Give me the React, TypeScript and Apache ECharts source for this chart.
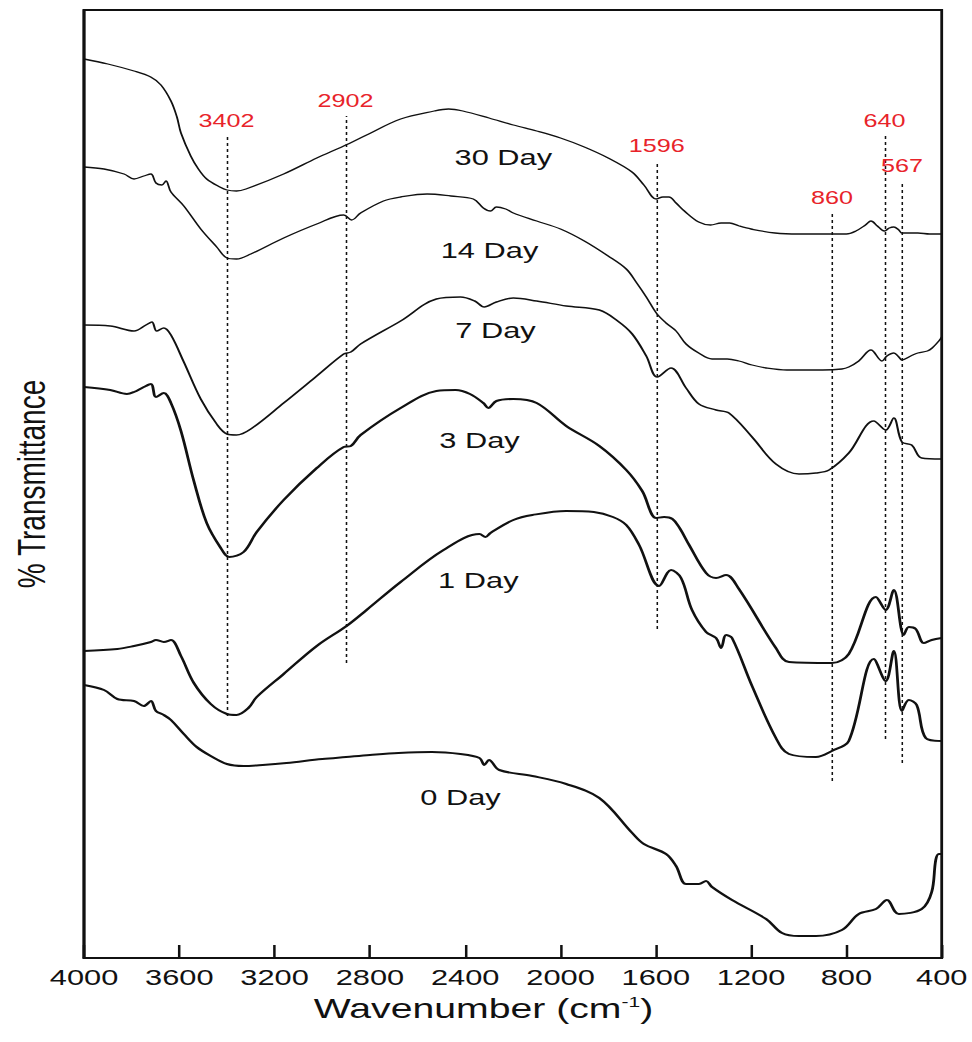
import React, { useEffect, useRef } from "react";
import * as echarts from "echarts";

// The reference figure is horizontally stretched; reproduce that with a CSS scaleX.
const STRETCH = 1.4;
const FONT = '"Liberation Sans", Arial, Helvetica, sans-serif';

// x tick labels (wavenumber, cm-1)
const xTicks = [4000, 3600, 3200, 2800, 2400, 2000, 1600, 1200, 800, 400];

// FTIR spectra: [wavenumber, transmittance (arbitrary offset units)]
const day30: [number, number][] = [
  [4000, 899], [3900, 894], [3790, 887], [3720, 881], [3677, 873], [3635, 857], [3610, 841], [3593, 825],
  [3552, 802], [3520, 789], [3485, 779], [3430, 771], [3400, 768], [3360, 767], [3320, 769], [3162, 784],
  [3023, 800], [2910, 812], [2814, 823], [2671, 839], [2530, 847], [2470, 849], [2410, 847], [2300, 840],
  [2198, 833], [2100, 827], [2000, 820], [1900, 811], [1800, 800], [1700, 786], [1650, 773], [1598, 759],
  [1570, 761], [1545, 761], [1515, 755], [1480, 747], [1420, 736], [1370, 733], [1326, 735], [1290, 735],
  [1250, 732], [1200, 729], [1100, 725], [1000, 724], [900, 724], [800, 724], [760, 727], [720, 733],
  [697, 737], [670, 732], [651, 728], [640, 727], [620, 730], [601, 731], [580, 728], [567, 725],
  [540, 725], [500, 725], [450, 724], [400, 724],
];

const day14: [number, number][] = [
  [4000, 791], [3916, 789], [3832, 784], [3790, 779], [3749, 782], [3719, 784], [3698, 775], [3673, 773],
  [3656, 777], [3635, 766], [3581, 752], [3510, 729], [3443, 711], [3400, 700], [3360, 699], [3300, 704], [3162, 720],
  [3023, 734], [2910, 743], [2877, 738], [2839, 745], [2743, 757], [2671, 761], [2560, 764], [2460, 762],
  [2366, 759], [2324, 750], [2294, 747], [2269, 751], [2230, 749], [2198, 745], [2100, 737], [2000, 729],
  [1900, 717], [1800, 702], [1724, 689], [1680, 675], [1640, 661], [1598, 645], [1557, 635], [1515, 627],
  [1473, 614], [1420, 605], [1364, 599], [1300, 599], [1251, 597], [1196, 593], [1137, 590], [1050, 588],
  [1000, 588], [900, 588], [819, 589], [790, 591], [748, 597], [697, 608], [651, 597], [630, 602],
  [601, 605], [580, 601], [567, 598], [530, 602], [500, 605], [460, 607], [440, 610], [412, 617], [400, 621],
];

const day7: [number, number][] = [
  [4000, 633], [3890, 632], [3790, 627], [3740, 633], [3715, 636], [3695, 627], [3665, 630], [3635, 623],
  [3581, 596], [3510, 559], [3443, 534], [3400, 524], [3360, 523], [3300, 529], [3162, 555], [3023, 582], [2910, 604],
  [2880, 606], [2839, 614], [2671, 637], [2521, 659], [2420, 661], [2360, 657], [2320, 651], [2269, 656], [2198, 660],
  [2100, 657], [1976, 652], [1837, 648], [1760, 637], [1699, 624], [1640, 602], [1594, 581], [1536, 590],
  [1473, 570], [1419, 554], [1347, 548], [1293, 545], [1196, 521], [1096, 494], [999, 484], [928, 485],
  [873, 488], [790, 505], [685, 537], [635, 528], [601, 540], [567, 516], [526, 513], [484, 500], [400, 499],
];

const day3: [number, number][] = [
  [4000, 571], [3890, 568], [3820, 564], [3790, 566], [3749, 571], [3719, 574], [3698, 561], [3665, 565],
  [3635, 555], [3593, 527], [3539, 477], [3485, 435], [3426, 410], [3390, 401], [3330, 406], [3275, 426],
  [3162, 458], [3023, 490], [2910, 511], [2880, 512], [2839, 523], [2671, 550], [2521, 567], [2440, 568], [2380, 564],
  [2324, 555], [2303, 550], [2269, 557], [2198, 559], [2100, 555], [1976, 532], [1837, 512], [1724, 488],
  [1657, 467], [1598, 440], [1565, 441], [1530, 439], [1500, 430], [1460, 413], [1389, 385], [1347, 380], [1305, 383], [1251, 369],
  [1096, 310], [1041, 296], [861, 295], [790, 304], [676, 361], [635, 348], [601, 368], [559, 323],
  [538, 331], [509, 329], [475, 315], [442, 318], [400, 320],
];

const day1: [number, number][] = [
  [4000, 307], [3860, 309], [3790, 312], [3719, 316], [3698, 318], [3665, 316], [3635, 318], [3593, 302],
  [3539, 275], [3468, 254], [3400, 244], [3360, 243], [3310, 250], [3275, 261], [3162, 284], [3023, 312], [2898, 332],
  [2814, 348], [2671, 376], [2491, 408], [2340, 424], [2315, 421], [2294, 425], [2198, 438], [2118, 443],
  [1976, 447], [1860, 446], [1780, 441], [1724, 433], [1670, 413], [1586, 372], [1536, 388], [1494, 380], [1448, 348],
  [1389, 326], [1347, 320], [1326, 310], [1305, 323], [1280, 320], [1196, 272], [1096, 220], [1041, 204],
  [928, 201], [861, 207], [790, 217], [685, 299], [635, 277], [601, 307], [567, 247], [538, 258],
  [505, 253], [467, 220], [400, 217],
];

const day0: [number, number][] = [
  [4000, 273], [3916, 268], [3860, 259], [3790, 257], [3749, 252], [3719, 257], [3698, 247], [3665, 243],
  [3635, 238], [3581, 224], [3527, 211], [3468, 202], [3400, 194], [3330, 192], [3250, 193], [3150, 195],
  [3000, 199], [2900, 201], [2800, 203], [2680, 205], [2540, 206], [2420, 204], [2340, 200], [2320, 193],
  [2300, 198], [2257, 188], [2118, 182], [1976, 174], [1837, 160], [1699, 125], [1650, 114], [1557, 104],
  [1515, 92], [1473, 74], [1419, 74], [1389, 77], [1364, 71], [1280, 58], [1137, 39], [1070, 25],
  [999, 22], [928, 22], [819, 28], [748, 44], [676, 49], [630, 58], [580, 44], [484, 49], [442, 66],
  [425, 98], [412, 104], [400, 104],
];

// Peak markers: wavenumber, label, dashed line from / to (transmittance units)
const peakWavenumbers = [3402, 2902, 1596, 860, 640, 567];
const peakLabels = ["3402", "2902", "1596", "860", "640", "567"];
const peakLineBottom = [242, 295, 329, 177, 219, 195];
const peakLineTop = [822, 842, 797, 745, 822, 777];

// Curve labels: text, anchor wavenumber, anchor transmittance
const curveNames = ["30 Day", "14 Day", "7 Day", "3 Day", "1 Day", "0 Day"];
const curveLabelWn = [2240, 2298, 2273, 2340, 2345, 2420];
const curveLabelT = [800, 707, 627, 517, 377, 160];

const curveData = [day30, day14, day7, day3, day1, day0];
const curveWidths = [1.3, 1.3, 1.5, 2, 2, 2];

function buildOption(): echarts.EChartsOption {
  const series: any[] = curveData.map((d, i) => ({
    type: "line",
    name: curveNames[i],
    data: d,
    showSymbol: false,
    symbol: "none",
    smooth: 0.35,
    silent: true,
    lineStyle: { color: "#111", width: curveWidths[i] },
    markPoint: {
      symbol: "circle",
      symbolSize: 0,
      silent: true,
      label: {
        show: true,
        position: "inside",
        color: "#111",
        fontSize: 22,
        fontFamily: FONT,
        formatter: "{b}",
      },
      data: [{ name: curveNames[i], coord: [curveLabelWn[i], curveLabelT[i]] }],
    },
  }));

  series.push({
    type: "line",
    name: "peaks",
    data: [],
    silent: true,
    markLine: {
      silent: true,
      symbol: ["none", "none"],
      lineStyle: { type: [3, 3], color: "#111", width: 1.1 },
      label: {
        show: true,
        position: "end",
        distance: 6,
        color: "#e8232a",
        fontSize: 18,
        fontFamily: FONT,
        formatter: "{b}",
      },
      data: peakWavenumbers.map((wn, i) => [
        { name: peakLabels[i], coord: [wn, peakLineBottom[i]] },
        { coord: [wn, peakLineTop[i]] },
      ]),
    },
  });

  return {
    animation: false,
    backgroundColor: "#fff",
    grid: {
      left: 60,
      right: 972 / STRETCH - 943 / STRETCH,
      top: 10,
      bottom: 84,
      show: true,
      borderColor: "#111",
      borderWidth: 2,
      backgroundColor: "transparent",
    },
    xAxis: {
      type: "value",
      min: 400,
      max: 4000,
      interval: 400,
      inverse: true,
      axisLine: { show: true, lineStyle: { color: "#111", width: 2 } },
      axisTick: { show: true, inside: true, length: 13, lineStyle: { color: "#111", width: 1.8 } },
      axisLabel: {
        color: "#111",
        fontSize: 22,
        fontFamily: FONT,
        margin: 9,
        showMinLabel: true,
        showMaxLabel: true,
        formatter: (v: number) => (xTicks.includes(v) ? String(v) : ""),
      },
      splitLine: { show: false },
      name: "Wavenumber (cm{sup|-1})",
      nameLocation: "middle",
      nameGap: 31,
      nameTextStyle: {
        color: "#111",
        fontSize: 28,
        fontFamily: FONT,
        padding: [0, 42, 0, 0],
        rich: {
          sup: { fontSize: 15, fontFamily: FONT, color: "#111", verticalAlign: "top", lineHeight: 15, padding: [0, 0, 14, 0] },
        },
      },
    },
    yAxis: {
      type: "value",
      min: 0,
      max: 948,
      axisLine: { show: true, lineStyle: { color: "#111", width: 2 } },
      axisTick: { show: false },
      axisLabel: { show: false },
      splitLine: { show: false },
      name: "% Transmittance",
      nameLocation: "middle",
      nameGap: 24,
      nameTextStyle: { color: "#111", fontSize: 28, fontFamily: FONT },
    },
    series,
  };
}

export default function App() {
  const ref = useRef<HTMLDivElement>(null);
  useEffect(() => {
    if (!ref.current) return;
    const chart = echarts.init(ref.current, null, { renderer: "svg" });
    chart.setOption(buildOption());
    return () => chart.dispose();
  }, []);
  return (
    <div
      ref={ref}
      style={{
        position: "absolute",
        left: 0,
        top: 0,
        width: 972 / STRETCH,
        height: 1042,
        transform: `scaleX(${STRETCH})`,
        transformOrigin: "0 0",
        background: "#fff",
      }}
    />
  );
}
